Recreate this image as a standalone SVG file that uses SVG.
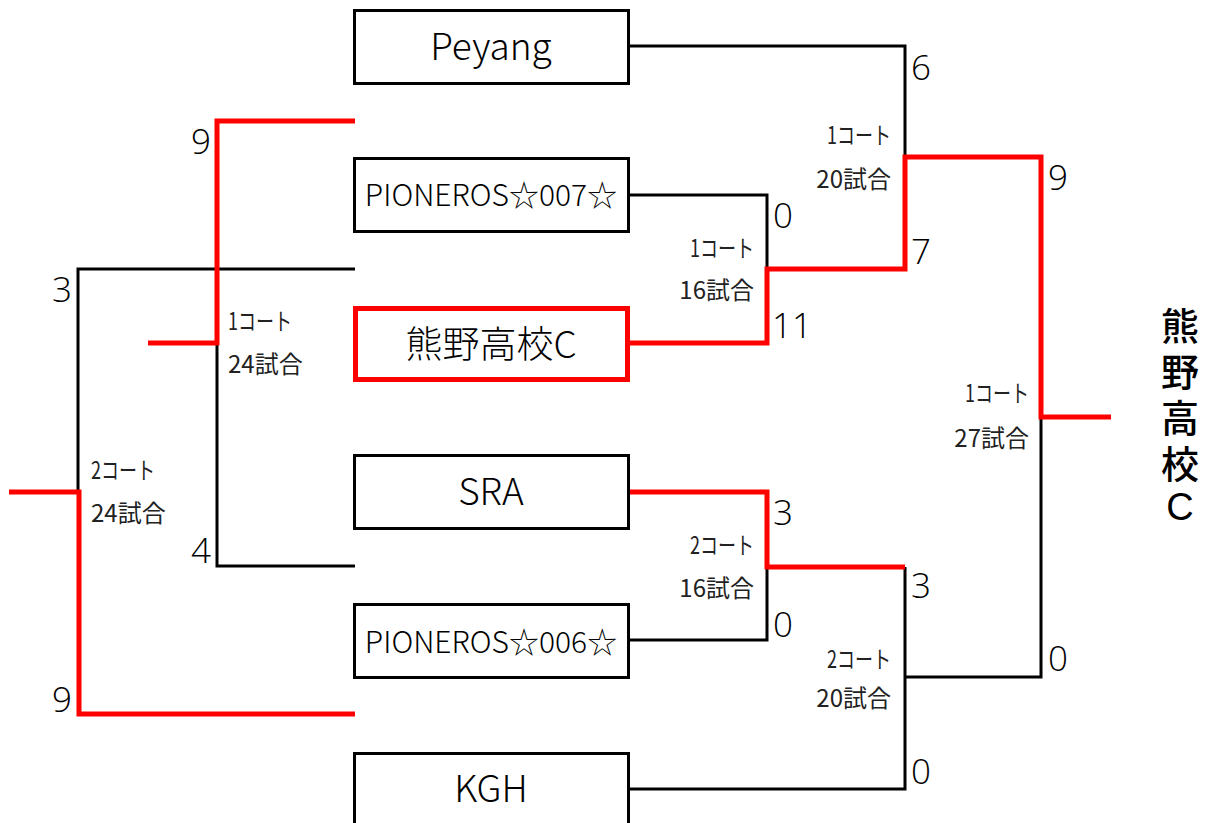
<svg xmlns="http://www.w3.org/2000/svg" width="1205" height="823" viewBox="0 0 1205 823">
<style>
.box{fill:#fff;stroke:#000;stroke-width:3}
.win{fill:#fff;stroke:#f00;stroke-width:5}
.name{font-family:"Noto Sans CJK JP","Noto Sans",sans-serif;font-size:37px;font-weight:300;text-anchor:middle;fill:#000}
.pio{font-size:30px}
.bk{fill:none;stroke:#000;stroke-width:3}
.rd{fill:none;stroke:#f00;stroke-width:5}
.sc{font-family:"Open Sans","Noto Sans",sans-serif;font-size:35px;font-weight:300;fill:#000}
.lb{font-family:"Noto Sans CJK JP",sans-serif;font-size:24px;fill:#222}
.e{text-anchor:end}
.champ{font-family:"Liberation Sans","Noto Sans CJK JP",sans-serif;font-size:38px;font-weight:500;fill:#000;text-anchor:middle}
</style>
<rect width="1205" height="823" fill="#fff"/>
<g id="connectors">
<path class="bk" d="M629,46 H905 V157"/>
<path class="bk" d="M629,195 H767 V269"/>
<path class="bk" d="M767,567 V640 H629"/>
<path class="bk" d="M905,567 V789 H629"/>
<path class="bk" d="M905,677 H1041 V417"/>
<path class="bk" d="M78,492 V269 H355"/>
<path class="bk" d="M217,343 V566 H355"/>
<path class="rd" d="M629,343 H767 V269 H905 V157 H1041 V417 H1111"/>
<path class="rd" d="M629,492 H767 V567 H905"/>
<path class="rd" d="M355,121 H217 V343 H148"/>
<path class="rd" d="M355,714 H79 V492 H9"/>
</g>
<g id="node-peyang"><rect class="box" x="354.5" y="10.5" width="274" height="73"/><text class="name" x="491" y="60">Peyang</text></g>
<g id="node-pioneros007"><rect class="box" x="354.5" y="158.5" width="274" height="73"/><text class="name pio" x="491" y="206">PIONEROS☆007☆</text></g>
<g id="node-kumano"><rect class="win" x="355.5" y="308.5" width="272" height="71"/><text class="name" x="491" y="358">熊野高校C</text></g>
<g id="node-sra"><rect class="box" x="354.5" y="455.5" width="274" height="73"/><text class="name" x="491" y="505">SRA</text></g>
<g id="node-pioneros006"><rect class="box" x="354.5" y="604.5" width="274" height="73"/><text class="name pio" x="491" y="653">PIONEROS☆006☆</text></g>
<g id="node-kgh"><rect class="box" x="354.5" y="753.5" width="274" height="73"/><text class="name" x="491" y="802">KGH</text></g>
<g id="scores">
<text class="sc" x="773" y="228">0</text>
<text class="sc" x="772" y="338">11</text>
<text class="sc" x="773" y="525">3</text>
<text class="sc" x="773" y="637">0</text>
<text class="sc" x="911" y="80">6</text>
<text class="sc" x="911" y="264">7</text>
<text class="sc" x="911" y="598">3</text>
<text class="sc" x="911" y="784">0</text>
<text class="sc" x="1048" y="190">9</text>
<text class="sc" x="1048" y="671">0</text>
<text class="sc e" x="211" y="154">9</text>
<text class="sc e" x="211" y="563">4</text>
<text class="sc e" x="72" y="302">3</text>
<text class="sc e" x="72" y="712">9</text>
</g>
<g id="labels">
<text class="lb" x="228" y="330" textLength="64" lengthAdjust="spacingAndGlyphs">1コート</text>
<text class="lb" x="228" y="373">24試合</text>
<text class="lb" x="91" y="479" textLength="64" lengthAdjust="spacingAndGlyphs">2コート</text>
<text class="lb" x="91" y="522">24試合</text>
<text class="lb e" x="754" y="257" textLength="64" lengthAdjust="spacingAndGlyphs">1コート</text>
<text class="lb e" x="754" y="299">16試合</text>
<text class="lb e" x="891" y="144" textLength="64" lengthAdjust="spacingAndGlyphs">1コート</text>
<text class="lb e" x="891" y="188">20試合</text>
<text class="lb e" x="754" y="554" textLength="64" lengthAdjust="spacingAndGlyphs">2コート</text>
<text class="lb e" x="754" y="597">16試合</text>
<text class="lb e" x="891" y="668" textLength="64" lengthAdjust="spacingAndGlyphs">2コート</text>
<text class="lb e" x="891" y="707">20試合</text>
<text class="lb e" x="1029" y="402" textLength="64" lengthAdjust="spacingAndGlyphs">1コート</text>
<text class="lb e" x="1029" y="447">27試合</text>
</g>
<g id="champion">
<text class="champ"><tspan x="1180" y="340">熊</tspan><tspan x="1180" y="386">野</tspan><tspan x="1180" y="432">高</tspan><tspan x="1180" y="478">校</tspan><tspan x="1180" y="520">C</tspan></text>
</g>
</svg>
